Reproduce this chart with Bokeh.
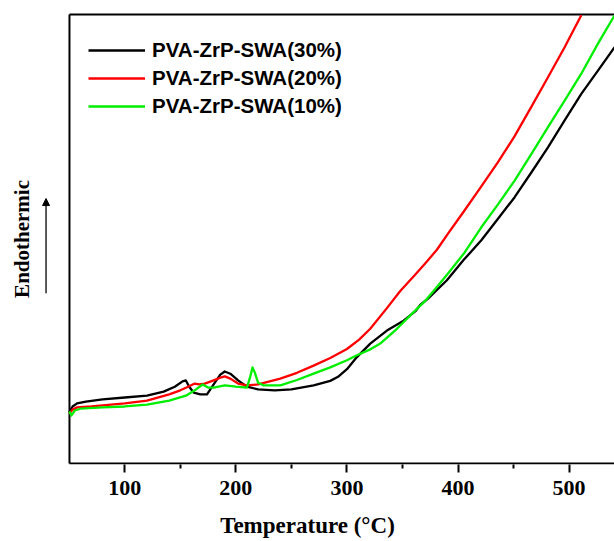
import math
from bokeh.plotting import figure
from bokeh.models import (FixedTicker, Range1d, Arrow, NormalHead, Label,
                          Legend, LegendItem)
from bokeh.embed import file_html
from bokeh.resources import INLINE

# ---- data (temperature in °C, heat flow in arbitrary units) ----
t30 = [50, 53, 57, 65, 80, 100, 120, 135, 145, 152, 155, 158, 162, 168, 174, 180,
       186, 190, 195, 202, 210, 220, 235, 250, 270, 285, 292, 300, 309, 321, 336,
       351, 362, 366, 373, 390, 405, 421, 436, 451, 466, 481, 496, 511, 526, 541]
y30 = [11.4, 12.7, 13.4, 13.8, 14.3, 14.7, 15.1, 16.0, 17.1, 18.3, 18.5, 17.1, 15.8,
       15.4, 15.4, 17.6, 19.8, 20.5, 20.0, 18.5, 17.1, 16.5, 16.3, 16.5, 17.4, 18.4,
       19.3, 21.0, 23.7, 26.7, 29.6, 31.8, 34.0, 35.3, 36.7, 40.8, 45.3, 49.7, 54.5,
       59.3, 64.8, 70.4, 76.4, 82.3, 87.5, 92.7]

t20 = [50, 53, 57, 70, 100, 120, 140, 150, 157, 163, 167, 172, 180, 187, 190, 195,
       202, 210, 220, 240, 255, 270, 285, 300, 311, 321, 336, 348, 361, 371, 381,
       391, 406, 421, 436, 451, 466, 481, 496, 511]
y20 = [11.1, 12.0, 12.5, 12.7, 13.4, 14.0, 15.4, 16.3, 17.1, 17.8, 17.6, 17.8, 18.5,
       19.2, 19.4, 18.9, 17.8, 17.4, 17.6, 18.9, 20.2, 21.8, 23.5, 25.5, 27.6, 30.0,
       34.6, 38.4, 41.9, 44.7, 47.6, 51.2, 56.4, 61.7, 67.1, 72.9, 79.4, 86.0, 92.7,
       99.8]

t10 = [50, 52, 55, 60, 80, 100, 120, 140, 155, 163, 170, 175, 180, 190, 200, 210,
       213, 215, 217, 220, 225, 240, 255, 270, 285, 300, 309, 320, 330, 345, 360,
       370, 381, 391, 406, 421, 436, 451, 466, 481, 496, 511, 526, 541]
y10 = [11.6, 10.7, 11.8, 12.2, 12.5, 12.7, 13.1, 14.0, 15.1, 16.3, 17.6, 16.9, 16.9,
       17.4, 17.1, 16.9, 19.4, 21.4, 20.3, 18.0, 17.4, 17.4, 18.6, 20.0, 21.4, 23.0,
       24.1, 25.3, 26.7, 30.0, 33.7, 36.1, 39.3, 42.3, 47.0, 52.6, 57.7, 63.0, 68.9,
       74.9, 80.8, 86.8, 93.5, 99.8]

series_names = ["PVA-ZrP-SWA(30%)", "PVA-ZrP-SWA(20%)", "PVA-ZrP-SWA(10%)"]
series_colors = ["#000000", "#ff0000", "#00ee00"]
x_ticks = [100, 200, 300, 400, 500]
x_minor = [150, 250, 350, 450]

# axis box in data units
X_LO, X_HI = 50.2, 540.9
Y_LO, Y_HI = 0.0, 100.0

SERIF = "Liberation Serif"
SANS = "Liberation Sans"

p = figure(width=614, height=541, output_backend="svg", toolbar_location=None,
           x_range=Range1d(-11.9, X_HI), y_range=Range1d(-0.22, 103.1),
           min_border_left=0, min_border_right=0, min_border_top=0,
           min_border_bottom=77)
p.background_fill_color = "white"
p.border_fill_color = "white"
p.outline_line_color = None
p.grid.visible = False
p.yaxis.visible = False

# axis box (left, top, bottom lines)
p.multi_line(xs=[[X_LO, X_LO], [X_LO, X_HI], [X_LO, X_HI]],
             ys=[[Y_LO, Y_HI], [Y_HI, Y_HI], [Y_LO, Y_LO]],
             line_color="black", line_width=2)

renderers = []
for (tx, ty), color in zip([(t30, y30), (t20, y20), (t10, y10)], series_colors):
    r = p.line(tx, ty, line_color=color, line_width=2.3, line_join="round")
    renderers.append(r)

# bottom axis (ticks and labels only)
xa = p.xaxis[0]
xa.ticker = FixedTicker(ticks=x_ticks, minor_ticks=x_minor)
xa.axis_line_color = None
xa.major_tick_line_width = 2
xa.minor_tick_line_width = 2
xa.major_tick_out = 8
xa.major_tick_in = 0
xa.minor_tick_out = 4
xa.minor_tick_in = 0
xa.major_label_text_font = SERIF
xa.major_label_text_font_style = "bold"
xa.major_label_text_font_size = "22px"
xa.major_label_text_color = "black"
xa.major_label_standoff = 8
xa.axis_label = "Temperature (°C)"
xa.axis_label_text_font = SERIF
xa.axis_label_text_font_style = "bold"
xa.axis_label_text_font_size = "23px"
xa.axis_label_text_color = "black"
xa.axis_label_text_line_height = 1.0
xa.axis_label_standoff = 15

# y label and arrow
p.add_layout(Label(x=7.9, y=50.0, text="Endothermic", angle=math.pi / 2,
                   text_align="center", text_baseline="middle",
                   text_font=SERIF, text_font_style="bold",
                   text_font_size="21px", text_color="black"))
p.add_layout(Arrow(end=NormalHead(size=7, fill_color="black", line_color="black", line_width=1),
                   x_start=29.1, y_start=37.9, x_end=29.1, y_end=59.0,
                   line_color="black", line_width=1.3))

legend = Legend(items=[LegendItem(label=n, renderers=[r]) for n, r in zip(series_names, renderers)],
                location=(88, 346), border_line_color=None, background_fill_alpha=0,
                padding=0, margin=0, spacing=4, glyph_width=57, glyph_height=20,
                label_height=20, label_standoff=7,
                label_text_font=SANS, label_text_font_style="bold",
                label_text_font_size="20.5px", label_text_color="black")
p.add_layout(legend)

open("out.html", "w").write(file_html(p, INLINE))
